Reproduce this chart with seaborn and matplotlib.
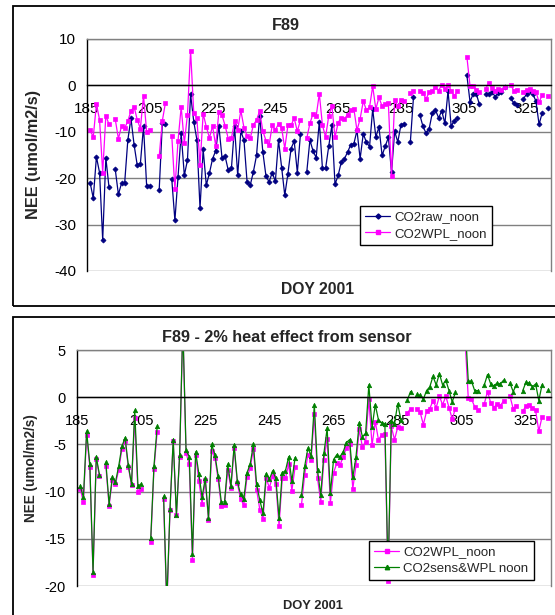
import numpy as np
import pandas as pd
import matplotlib
matplotlib.use("Agg")
import matplotlib.pyplot as plt
import matplotlib.patches as mpatches
from matplotlib.lines import Line2D
import seaborn as sns

# ─── Data ────────────────────────────────────────────────────────────────────

DOY = [186, 187, 188, 189, 190, 191, 192,
       194, 195, 196, 197, 198, 199, 200, 201, 202, 203, 204, 205,
       208, 209, 210,
       212, 213, 214, 215, 216, 217, 218, 219, 220, 221, 222, 223, 224, 225,
       226, 227, 228, 229, 230, 231, 232, 233, 234, 235, 236, 237, 238, 239,
       240, 241, 242, 243, 244, 245, 246, 247, 248, 249, 250, 251, 252, 253,
       255, 256, 257, 258, 259, 260, 261, 262, 263, 264, 265, 266, 267, 268,
       269, 270, 271, 272, 273, 274, 275, 276, 277, 278, 279, 280, 281, 282,
       283, 284, 285, 286,
       288, 289,
       291, 292, 293, 294, 295, 296, 297, 298, 299, 300, 301, 302, 303,
       306, 307, 308, 309, 310,
       312, 313, 314, 315, 316, 317, 318,
       320, 321, 322,
       324, 325, 326, 327, 328, 329, 330,
       332]

CO2RAW = [-21.0, -24.3, -15.4, -18.8, -33.3, -15.6, -21.9,
          -18.1, -23.5, -21.1, -21.0, -11.8, -7.1, -12.8, -17.2, -16.9, -8.8, -21.7, -21.7,
          -22.5, -8.1, -8.3,
          -20.2, -29.1, -19.7, -10.3, -19.4, -16.1, -1.9, -7.8, -11.7, -26.5, -13.8, -21.5, -18.9, -15.8,
          -14.1, -8.7, -15.6, -15.3, -18.3, -17.9, -8.8, -19.4, -9.9, -11.8, -20.9, -21.5, -18.6, -15.1,
          -6.5, -14.3, -19.5, -20.8, -18.8, -20.7, -11.8, -17.7, -23.7, -19.0, -13.6, -12.0, -18.8, -10.4,
          -18.7, -11.8, -14.1, -15.6, -7.8, -17.9, -17.9, -13.1, -8.6, -21.3, -19.4, -16.5, -15.8, -14.4,
          -12.8, -12.6, -9.7, -15.8, -10.4, -12.3, -13.2, -5.1, -11.1, -9.0, -15.1, -13.1, -11.2, -18.7,
          -9.9, -12.2, -8.5, -8.3,
          -12.2, -2.5,
          -6.3, -8.8, -10.3, -9.3, -5.9, -5.3, -7.0, -5.5, -8.2, -1.2, -8.8, -7.6, -7.0,
          2.2, -3.5, -1.9, -1.8, -4.1,
          -1.9, -1.8, -1.4, -2.4, -1.7, -1.4, -0.4,
          -2.7, -3.9, -4.3,
          -2.9, -1.9, -1.1, -1.8, -3.4, -8.4, -5.9,
          -4.8]

CO2WPL = [-9.7, -11.1, -4.0, -7.4, -18.8, -6.5, -8.4,
          -7.3, -11.5, -8.8, -9.2, -7.7, -5.5, -4.6, -7.4, -9.3, -2.2, -10.0, -9.7,
          -15.3, -7.6, -3.7,
          -10.8, -22.4, -11.9, -4.6, -12.5, -6.3, 7.5, -5.9, -7.1, -17.2, -6.1, -8.9, -11.3, -8.8,
          -13.0, -5.7, -6.4, -8.7, -11.5, -11.4, -7.7, -9.6, -5.4, -9.1, -10.8, -11.4, -8.5, -7.5,
          -5.5, -9.8, -11.9, -12.9, -8.6, -9.6, -8.3, -9.2, -13.6, -8.6, -8.6, -7.1, -9.9, -7.4,
          -11.4, -8.2, -6.1, -6.6, -1.8, -8.6, -11.1, -6.6, -4.4, -11.2, -8.0, -7.0, -7.2, -6.3,
          -5.4, -5.0, -9.7, -7.2, -3.4, -5.3, -4.7, -0.2, -5.1, -2.6, -4.5, -4.0, -3.9, -19.5,
          -3.1, -4.5, -3.2, -3.3,
          -1.7, -1.2,
          -1.3, -1.6, -2.9, -1.5, -1.2, -0.4, -1.1, 0.1, -0.8, 0.1, -1.1, -2.3, -1.2,
          6.2, -0.1, -0.2, -1.0, -1.4,
          -0.7, 0.6, -0.6, -1.1, -0.7, -0.9, -0.4,
          0.1, -1.2, -0.9,
          -1.5, -0.9, -0.8, -1.1, -1.4, -3.6, -2.1,
          -2.2]

CO2SENS = [-9.4, -10.6, -3.6, -7.1, -18.5, -6.3, -8.2,
           -6.9, -11.3, -8.5, -9.0, -7.3, -5.2, -4.3, -7.2, -9.2, -1.4, -9.4, -9.2,
           -14.9, -7.3, -3.1,
           -10.5, -21.8, -11.8, -4.5, -12.5, -6.1, 7.7, -5.6, -6.3, -16.6, -5.8, -8.1, -10.6, -8.6,
           -12.8, -5.0, -6.1, -8.3, -11.1, -11.1, -7.1, -9.4, -5.1, -8.9, -10.3, -10.8, -8.0, -7.1,
           -5.0, -9.2, -10.9, -12.3, -8.1, -8.7, -7.8, -8.6, -12.8, -8.0, -7.8, -6.3, -8.9, -6.4,
           -10.4, -7.3, -5.4, -6.2, -0.8, -7.7, -10.4, -5.9, -3.3, -10.2, -6.6, -6.1, -6.3, -5.8,
           -4.8, -4.5, -8.5, -6.3, -2.7, -4.2, -3.8, 1.3, -3.2, -0.8, -2.4, -2.7, -2.8, -19.0,
           -2.5, -2.8, -0.7, -2.4,
           -0.3, 0.6,
           0.3, 0.2, -0.2, 0.7, 1.1, 2.2, 1.3, 2.5, 1.3, 1.8, 0.7, -0.5, 0.5,
           7.9, 1.7, 1.7, 0.7, 0.7,
           1.3, 2.4, 1.4, 1.2, 1.5, 1.4, 1.8,
           1.5, 0.6, 1.3,
           0.7, 1.6, 1.5, 1.1, 1.4, -0.35, 1.3,
           0.8]

NAVY, MAGENTA, GREEN = "#000080", "#FF00FF", "#008000"
GRID = "#808080"

sns.set_style("white")
plt.rcParams["font.family"] = ["Liberation Sans", "DejaVu Sans"]
plt.rcParams["axes.unicode_minus"] = False

df = pd.DataFrame({"doy": DOY, "raw": CO2RAW, "wpl": CO2WPL, "sens": CO2SENS})
# missing days break the lines (Excel style)
df["run"] = (df["doy"].diff() > 1).cumsum()

W, H = 555, 615
fig = plt.figure(figsize=(W / 100, H / 100), dpi=100)


def px_rect(x0, y0, x1, y1):
    return [x0 / W, 1 - y1 / H, (x1 - x0) / W, (y1 - y0) / H]


ax1 = fig.add_axes(px_rect(87, 39, 551, 271))
ax2 = fig.add_axes(px_rect(77, 350, 551, 586))

# chart-area frames
for x0, y0, x1, y1 in [(13, 6, 580, 306), (13, 317, 580, 640)]:
    fig.add_artist(mpatches.Rectangle((x0 / W, 1 - y1 / H), (x1 - x0) / W, (y1 - y0) / H,
                                      transform=fig.transFigure, fill=False,
                                      ec="black", lw=1.3))


def draw(ax, col, color, marker, ms):
    sns.lineplot(data=df, x="doy", y=col, units="run", estimator=None, ax=ax,
                 color=color, lw=0.9, marker=marker, markersize=ms,
                 markeredgecolor=color, markerfacecolor=color, markeredgewidth=0.5)


def style_axes(ax, lo, hi, step, fs):
    ax.set_xlim(185, 332.8)
    ax.set_ylim(lo, hi)
    ax.set_yticks(np.arange(lo, hi + 0.1, step))
    ax.set_xticks(np.arange(185, 326, 20))
    ax.yaxis.grid(True, color=GRID, lw=1)
    ax.xaxis.grid(False)
    ax.set_axisbelow(True)
    ax.spines["bottom"].set_position(("data", 0))
    ax.spines["bottom"].set_color("black")
    ax.spines["left"].set_color("black")
    ax.spines["top"].set_color(GRID)
    ax.spines["right"].set_color(GRID)
    for s in ax.spines.values():
        s.set_linewidth(1)
    ax.tick_params(axis="x", direction="out", length=3, width=1, pad=9,
                   labelsize=fs, colors="black")
    ax.tick_params(axis="y", direction="out", length=3, width=1, pad=5,
                   labelsize=fs, colors="black")
    ax.set_xlabel("")
    ax.set_ylabel("")


def legend(ax, series, labels, x, y, fs):
    handles = [Line2D([], [], color=c, lw=0.9, marker=m, ms=s, mec=c, mfc=c)
               for c, m, s in series]
    leg = ax.legend(handles, labels, loc="upper left",
                    bbox_to_anchor=(x / W, 1 - y / H), bbox_transform=fig.transFigure,
                    frameon=True, fancybox=False, framealpha=1, edgecolor="black",
                    fontsize=fs, handlelength=1.9, borderpad=0.4, labelspacing=0.3,
                    handletextpad=0.3, borderaxespad=0, numpoints=1)
    leg.get_frame().set_linewidth(1)


# --- Top: raw vs WPL ---------------------------------------------------------
draw(ax1, "raw", NAVY, "D", 2.6)
draw(ax1, "wpl", MAGENTA, "s", 3.0)
style_axes(ax1, -40, 10, 10, 11)
legend(ax1, [(NAVY, "D", 2.6), (MAGENTA, "s", 3.0)],
       ["CO2raw_noon", "CO2WPL_noon"], 360, 206, 9.5)

fig.text(286 / W, 1 - 26 / H, "F89", ha="center", va="center",
         fontsize=11.7, fontweight="bold")
fig.text(318 / W, 1 - 290 / H, "DOY 2001", ha="center", va="center",
         fontsize=11.3, fontweight="bold")
fig.text(33.5 / W, 1 - 155 / H, "NEE (umol/m2/s)", ha="center", va="center",
         rotation=90, fontsize=11.7, fontweight="bold")

# --- Bottom: WPL vs sensor heat + WPL ----------------------------------------
draw(ax2, "wpl", MAGENTA, "s", 3.0)
draw(ax2, "sens", GREEN, "^", 3.2)
style_axes(ax2, -20, 5, 5, 10.5)
legend(ax2, [(MAGENTA, "s", 3.0), (GREEN, "^", 3.2)],
       ["CO2WPL_noon", "CO2sens&WPL noon"], 369, 541, 9.5)

fig.text(287 / W, 1 - 337 / H, "F89 - 2% heat effect from sensor", ha="center",
         va="center", fontsize=11.7, fontweight="bold")
fig.text(313 / W, 1 - 606 / H, "DOY 2001", ha="center", va="center",
         fontsize=9.3, fontweight="bold")
fig.text(31 / W, 1 - 468 / H, "NEE (umol/m2/s)", ha="center", va="center",
         rotation=90, fontsize=9.8, fontweight="bold")

fig.savefig("out.png", dpi=100)
